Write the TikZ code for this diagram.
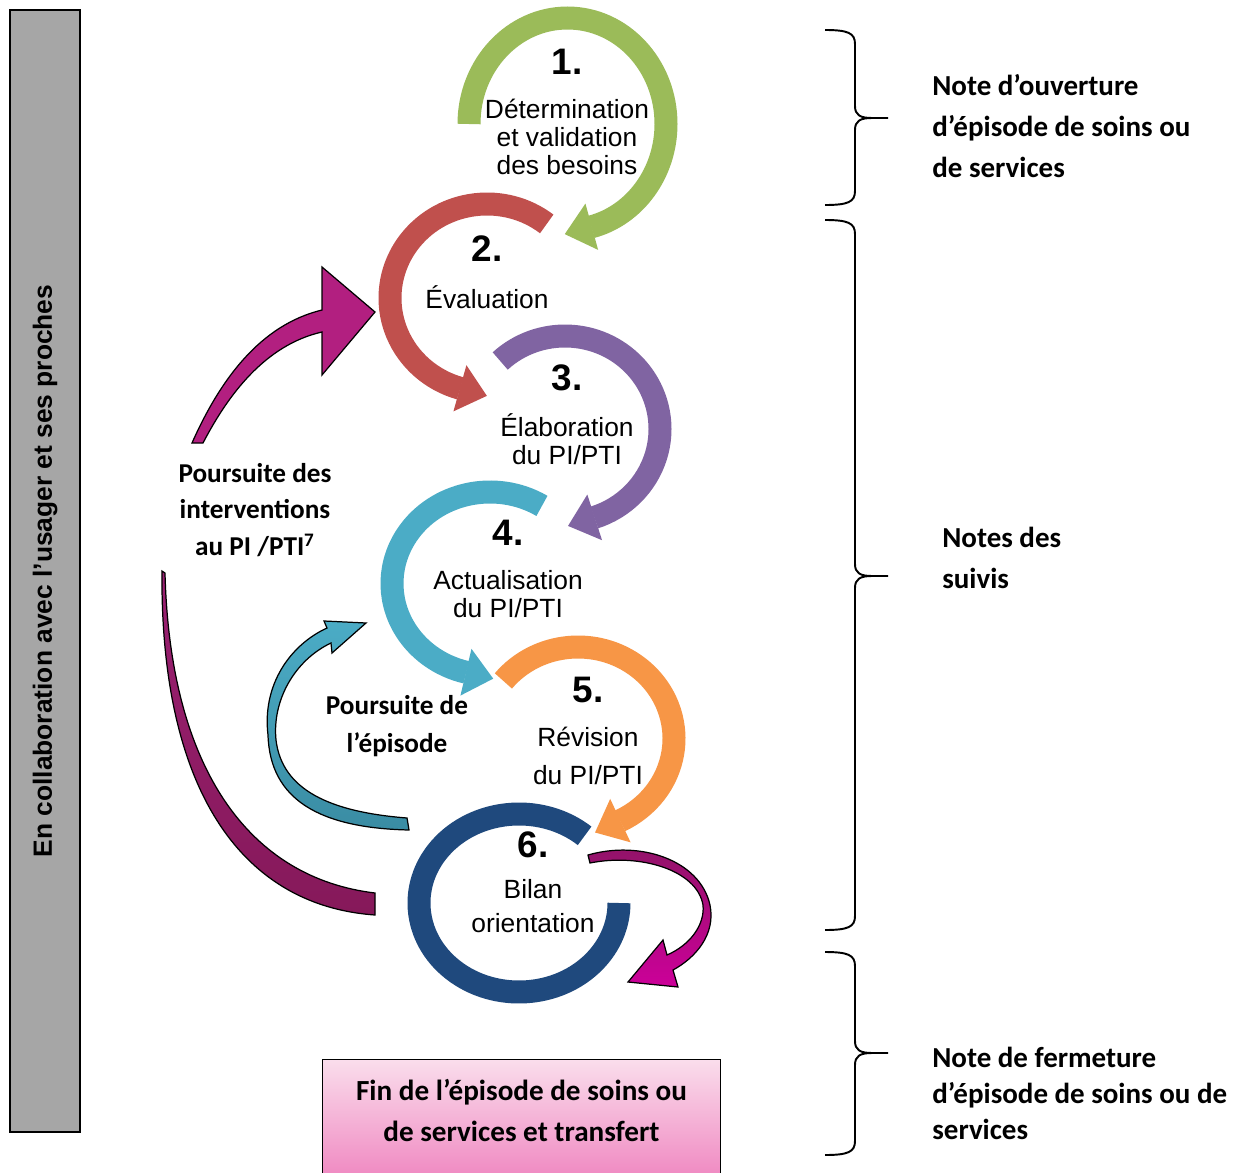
\documentclass[tikz,border=0pt]{standalone}
\usepackage{fontspec}
\setmainfont{Liberation Sans}
\newfontfamily\labelfont{Carlito}
\usepackage{tikz}
\usetikzlibrary{decorations.markings}
\definecolor{stepgreen}{HTML}{9BBB59}
\definecolor{stepred}{HTML}{C0504D}
\definecolor{steppurple}{HTML}{8064A2}
\definecolor{stepteal}{HTML}{4BACC6}
\definecolor{steporange}{HTML}{F79646}
\definecolor{stepnavy}{HTML}{1F497D}
\definecolor{loopmagenta}{HTML}{B21F80}
\definecolor{loopdarktop}{HTML}{9A2072}
\definecolor{loopdarkbot}{HTML}{86195A}
\definecolor{loopendtop}{HTML}{8F1466}
\definecolor{loopendbot}{HTML}{CC0099}
\definecolor{loopteal}{HTML}{4BACC6}
\definecolor{looptealdark}{HTML}{3A8CA3}
\definecolor{bargray}{HTML}{A6A6A6}
\definecolor{fintop}{HTML}{FADDEC}
\definecolor{finbot}{HTML}{F08CC3}

% right-hand brace: top, tip, bottom (pixel rows)
\newcommand{\notebrace}[3]{%
  \draw[bracestyle] (825,-#1) .. controls (848,-#1) and (855,-#1-3) .. (855,-#1-14)
    -- (855,-#2+12) .. controls (855,-#2+3) and (860,-#2) .. (872,-#2) -- (888,-#2)
    (872,-#2) .. controls (860,-#2) and (855,-#2-3) .. (855,-#2-12)
    -- (855,-#3+14) .. controls (855,-#3+3) and (848,-#3) .. (825,-#3);}

\begin{document}
\begin{tikzpicture}[x=0.02cm, y=0.02cm,
    ring/.style={line width=0.46cm, draw=#1},
    ringhead/.style={postaction={decorate, decoration={markings,
        mark=at position 0.999 with {\fill[#1] (0,24) -- (28,0) -- (0,-24) -- cycle;}}}},
    stepnum/.style={font=\fontsize{21}{24}\selectfont\bfseries},
    steptext/.style={font=\fontsize{15}{16}\selectfont, align=center},
    notelabel/.style={font=\labelfont\bfseries\fontsize{16.5}{23.3}\selectfont,
                      align=left, anchor=west, inner sep=0pt},
    looplabel/.style={font=\labelfont\bfseries\fontsize{15.5}{21}\selectfont, align=center},
    bracestyle/.style={line width=1.1pt},
    loopedge/.style={draw=black, line width=0.7pt},
]
\useasboundingbox (0,0) rectangle (1248,-1173);
\fill[white] (0,0) rectangle (1248,-1173);

% side bar
\node[draw, line width=0.8pt, fill=bargray, rotate=90, minimum width=22.44cm,
      minimum height=1.4cm, font=\bfseries\fontsize{15}{18}\selectfont] (collab)
    at (45,-571) {En collaboration avec l’usager et ses proches};

% the six steps
\draw[ring=stepgreen, ringhead=stepgreen]
    ([shift={(180:98.5 and 106)}]567.5,-124) arc[start angle=180, end angle=-76, x radius=98.5, y radius=106];
\draw[ring=stepred, ringhead=stepred]
    ([shift={(52:97 and 94)}]487,-298) arc[start angle=52, end angle=254, x radius=97, y radius=94];
\draw[ring=steppurple, ringhead=steppurple]
    ([shift={(133:95 and 93)}]565,-429) arc[start angle=133, end angle=-72, x radius=95, y radius=93];
\draw[ring=stepteal, ringhead=stepteal]
    ([shift={(58:98 and 91.5)}]490,-583.5) arc[start angle=58, end angle=256, x radius=98, y radius=91.5];
\draw[ring=stepnavy]
    ([shift={(49:100 and 89)}]519,-903) arc[start angle=49, end angle=360, x radius=100, y radius=89];
\draw[ring=steporange, ringhead=steporange]
    ([shift={(141:96 and 91.5)}]578,-738.5) arc[start angle=141, end angle=-64, x radius=96, y radius=91.5];

\node[stepnum] (n1) at (567,-62) {1.};
\node[steptext] (t1) at (567,-137) {Détermination\\et validation\\des besoins};
\node[stepnum] (n2) at (487,-249) {2.};
\node[steptext] (t2) at (487,-297) {Évaluation};
\node[stepnum] (n3) at (567,-378) {3.};
\node[steptext] (t3) at (567,-439) {Élaboration\\du PI/PTI};
\node[stepnum] (n4) at (508,-533) {4.};
\node[steptext] (t4) at (508,-594) {Actualisation\\du PI/PTI};
\node[stepnum] (n5) at (588,-690) {5.};
\node[steptext, font=\fontsize{15}{21.6}\selectfont] (t5) at (588,-756) {Révision\\du PI/PTI};
\node[stepnum] (n6) at (533,-845) {6.};
\node[steptext, font=\fontsize{15}{19.3}\selectfont] (t6) at (533,-906) {Bilan\\orientation};

% loop back to step 2
\draw[loopedge, fill=loopmagenta] (192,-443) .. controls (220,-380) and (260,-325) .. (322,-310)
    -- (322,-267) -- (375,-312) -- (322,-375) -- (322,-332)
    .. controls (265,-345) and (228,-395) .. (203,-443) -- cycle;
\draw[loopedge, top color=loopdarktop, bottom color=loopdarkbot] (162,-571)
    .. controls (160,-780) and (235,-905) .. (375,-915) -- (375,-893)
    .. controls (250,-878) and (170,-770) .. (165,-573) -- cycle;
\node[looplabel] (loopint) at (255,-510) {Poursuite des\\interventions\\au PI /PTI\textsuperscript{7}};

% loop back to step 4
\draw[loopedge, top color=loopteal, bottom color=looptealdark] (409,-830)
    .. controls (320,-828) and (270,-800) .. (268,-735)
    .. controls (262,-685) and (290,-645) .. (327,-628)
    -- (324,-621) -- (366,-623) -- (332,-653) -- (331,-643)
    .. controls (295,-660) and (272,-700) .. (276,-740)
    .. controls (282,-790) and (330,-812) .. (407,-818) -- cycle;
\node[looplabel, font=\labelfont\bfseries\fontsize{15.5}{21.6}\selectfont] (loopep)
    at (397,-726) {Poursuite de\\l’épisode};

% exit from step 6
\draw[loopedge, top color=loopendtop, bottom color=loopendbot] (588,-855)
    .. controls (640,-840) and (700,-860) .. (710,-905)
    .. controls (716,-935) and (695,-958) .. (673,-970)
    -- (678,-987) -- (628,-982) -- (663,-940) -- (667,-955)
    .. controls (690,-945) and (705,-925) .. (703,-905)
    .. controls (697,-870) and (640,-853) .. (590,-863) -- cycle;

% end box
\node[minimum width=7.94cm, minimum height=2.26cm, inner sep=0pt,
      top color=fintop, bottom color=finbot] (finbox) at (521.5,-1116.5) {};
\draw[line width=0.8pt] (finbox.south west) |- (finbox.north east) -- (finbox.south east);
\node[font=\labelfont\bfseries\fontsize{16.6}{23.3}\selectfont, align=center] (fintext)
    at (521.5,-1110.5) {Fin de l’épisode de soins ou\\de services et transfert};

% braces and notes
\notebrace{30}{118}{205}
\notebrace{220}{576}{930}
\notebrace{952}{1053}{1155}
\node[notelabel] (noteopen) at (932,-126) {Note d’ouverture\\d’épisode de soins ou\\de services};
\node[notelabel] (notefollow) at (942,-558) {Notes des\\suivis};
\node[notelabel, font=\labelfont\bfseries\fontsize{16.5}{20.5}\selectfont] (noteclose)
    at (932,-1093) {Note de fermeture\\d’épisode de soins ou de\\services};
\end{tikzpicture}
\end{document}
